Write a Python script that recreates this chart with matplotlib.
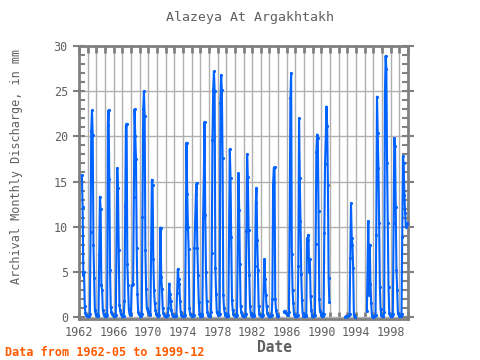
import numpy as np
import matplotlib
matplotlib.use('Agg')
import matplotlib.pyplot as plt
from matplotlib.ticker import MultipleLocator

nan = np.nan

# monthly discharge (mm), one row per year, Jan..Dec
flow_1960s = [
    [nan, nan, nan, nan, 15.7, 12.2, 4.6, 5.0, 1.2, 0.4, 0.2, 0.1],   # 1962
    [0.1, 0.1, 0.1, 0.3, 9.4, 20.6, 22.9, 20.1, 8.0, 4.3, 0.8, 0.3],  # 1963
    [0.2, 0.1, 0.1, 0.2, 6.9, 13.3, 12.0, 3.5, 3.0, 0.8, 0.3, 0.2],   # 1964
    [0.1, 0.1, 0.1, 0.2, 21.3, 22.9, 15.3, 5.2, 1.1, 0.5, 0.3, 0.2],  # 1965
    [0.1, 0.1, 0.1, 0.2, 8.9, 16.5, 14.3, 7.4, 1.3, 0.8, 0.3, 0.2],   # 1966
    [0.1, 0.1, 0.1, 1.8, 12.3, 21.2, 21.4, 5.9, 3.5, 0.9, 0.3, 0.2],  # 1967
    [0.3, 3.5, 3.5, 3.6, 13.3, 23.0, 20.0, 17.5, 7.6, 2.6, 0.5, 0.3], # 1968
    [0.2, 0.1, 0.1, 0.3, 11.1, 23.0, 25.0, 22.3, 7.4, 3.1, 1.0, 0.7], # 1969
]
flow_1970s = [
    [0.5, 0.3, 0.2, 0.3, 8.2, 15.2, 14.6, 6.4, 3.0, 1.5, 0.8, 0.3],   # 1970
    [0.2, 0.1, 0.1, 0.2, 5.2, 9.9, 4.4, 3.1, 1.0, 0.4, 0.2, 0.1],     # 1971
    [0.1, 0.1, 0.1, 0.2, 1.0, 3.7, 2.6, 1.8, 0.8, 0.3, 0.1, 0.1],     # 1972
    [0.1, 0.1, 0.1, 0.2, 2.7, 5.3, 4.2, 3.7, 1.8, 0.5, 0.2, 0.1],     # 1973
    [0.1, 0.1, 0.1, 0.2, 9.9, 19.3, 13.6, 10.0, 7.5, 1.0, 0.3, 0.2],  # 1974
    [0.1, 0.1, 0.1, 0.2, 7.6, 10.6, 13.6, 14.8, 7.6, 4.6, 1.7, 0.3],  # 1975
    [0.1, 0.1, 0.1, 0.3, 11.0, 15.5, 21.6, 11.3, 5.0, 1.8, 0.5, 0.2], # 1976
    [0.1, 0.1, 0.1, 0.5, 7.1, 19.6, 25.2, 27.2, 25.0, 5.4, 2.6, 0.5], # 1977
    [0.3, 0.2, 0.2, 0.3, 23.7, 26.8, 25.1, 17.6, 2.4, 1.0, 0.4, 0.2], # 1978
    [0.1, 0.1, 0.1, 0.2, 9.8, 18.6, 15.4, 8.9, 1.9, 0.8, 0.3, 0.2],   # 1979
]
flow_1980s = [
    [0.1, 0.1, 0.1, 0.2, 8.1, 15.9, 11.8, 5.9, 1.2, 0.5, 0.2, 0.1],   # 1980
    [0.1, 0.1, 0.1, 0.3, 9.5, 18.0, 15.5, 9.6, 4.6, 1.2, 0.4, 0.2],   # 1981
    [0.1, 0.1, 0.1, 0.2, 5.6, 12.6, 14.3, 8.5, 5.2, 1.2, 0.3, 0.2],   # 1982
    [0.1, 0.1, 0.1, 0.2, 3.1, 6.4, 4.2, 2.4, 1.2, 0.4, 0.2, 0.1],     # 1983
    [0.1, 0.1, 0.1, 0.2, 2.0, 14.6, 16.5, 16.6, 2.0, 0.8, 0.3, 0.1],  # 1984
    [0.1, nan, nan, nan, nan, nan, nan, nan, 0.6, 0.7, 0.6, 0.4],     # 1985
    [0.3, 0.2, 0.2, 0.5, 10.7, 24.2, 27.0, 7.0, 3.0, 1.5, 0.3, 0.1],  # 1986
    [0.1, 0.1, 0.1, 0.2, 5.6, 22.0, 15.4, 10.6, 4.8, 1.9, 0.4, 0.1],  # 1987
    [0.1, 0.1, 0.1, 0.2, 8.7, 8.5, 9.1, 5.0, 6.4, 2.3, 0.8, 0.1],     # 1988
    [0.1, 0.1, 0.1, 0.2, 8.1, 18.3, 20.2, 19.8, 11.7, 2.0, 0.7, 0.4], # 1989
]
flow_1990s = [
    [0.2, 0.1, 0.1, 0.3, 9.3, 16.9, 19.8, 23.3, 21.1, 14.6, 4.3, 1.7],  # 1990
    [nan] * 12,                                                          # 1991
    [nan, nan, nan, nan, nan, nan, nan, nan, nan, 0.0, 0.1, 0.1],        # 1992
    [0.1, 0.1, 0.2, 0.3, 6.5, 12.6, 8.7, 8.0, 5.4, 0.2, 0.0, 0.0],       # 1993
    [nan] * 12,                                                          # 1994
    [nan, nan, nan, 0.7, 5.6, 10.6, 2.4, 8.0, 3.7, 1.5, 0.1, 0.0],       # 1995
    [0.0, 0.1, 0.1, 0.2, 9.1, 24.4, 20.4, 16.5, 10.4, 3.3, 0.9, 0.2],    # 1996
    [0.1, 0.1, 0.1, 0.5, 24.6, 28.9, 27.4, 17.0, 10.4, 3.3, 0.4, 0.2],   # 1997
    [0.1, 0.1, 0.1, 0.3, 10.4, 19.8, 18.9, 12.2, 5.2, 3.0, 0.4, 0.2],    # 1998
    [0.1, 0.1, 0.1, 0.3, 8.9, 17.8, 17.0, 13.5, 11.5, 10.0, 10.4, 10.3], # 1999
]

first_year = 1962
x_ticks = list(range(1962, 1999, 4))
y_ticks = [0, 5, 10, 15, 20, 25, 30]

vals = np.array(flow_1960s + flow_1970s + flow_1980s + flow_1990s).ravel()
t = first_year + np.arange(len(vals)) / 12.0

grey = '#808080'
txt = '#606060'
mono = 'DejaVu Sans Mono'

fig = plt.figure(figsize=(4.8, 3.6), dpi=100)
ax = fig.add_axes([79/480, 1 - 319/360, 329/480, 273/360])

ax.plot(t, vals, color='#0062ff', lw=1.5, marker='.', ms=2.5, zorder=3)

ax.set_xlim(1962, 2000)
ax.set_ylim(-0.22, 30.0)
ax.set_xticks(x_ticks)
ax.xaxis.set_minor_locator(MultipleLocator(1))
ax.set_yticks(y_ticks)
ax.yaxis.set_minor_locator(MultipleLocator(1))

ax.grid(True, which='major', axis='y', color='#b0b0b0', lw=1.0)
ax.grid(True, which='both', axis='x', color='#b0b0b0', lw=1.0)
ax.set_axisbelow(True)

for s in ax.spines.values():
    s.set_color(grey)
    s.set_linewidth(2)

ax.tick_params(axis='x', which='both', direction='in', top=True, bottom=True,
               length=5, width=2, color=grey, labelsize=8.5, labelcolor=txt, pad=5)
ax.tick_params(axis='y', which='major', direction='inout', left=True, right=True,
               length=8, width=1.5, color=grey, labelsize=8.5, labelcolor=txt, pad=4)
ax.tick_params(axis='y', which='minor', direction='in', left=True, right=True,
               length=4, width=1.5, color=grey)
for lab in ax.get_xticklabels() + ax.get_yticklabels():
    lab.set_family(mono)

fig.text(250/480, 1 - 17/360, 'Alazeya At Argakhtakh', ha='center', va='center',
         family=mono, fontsize=9.5, color=txt)
fig.text(274/480, 1 - 347/360, 'Date', ha='center', va='center',
         family=mono, fontsize=10.5, fontweight='bold', color=txt)
fig.text(17/480, 1 - 166/360, 'Archival Monthly Discharge, in mm', rotation=90,
         ha='center', va='center', family=mono, fontsize=8.5, color=txt)
fig.text(5/480, 1 - 352/360, 'Data from 1962-05 to 1999-12', ha='left', va='center',
         family=mono, fontsize=8.5, fontweight='bold', color='#ff5a00')

fig.savefig('out.png', dpi=100)
